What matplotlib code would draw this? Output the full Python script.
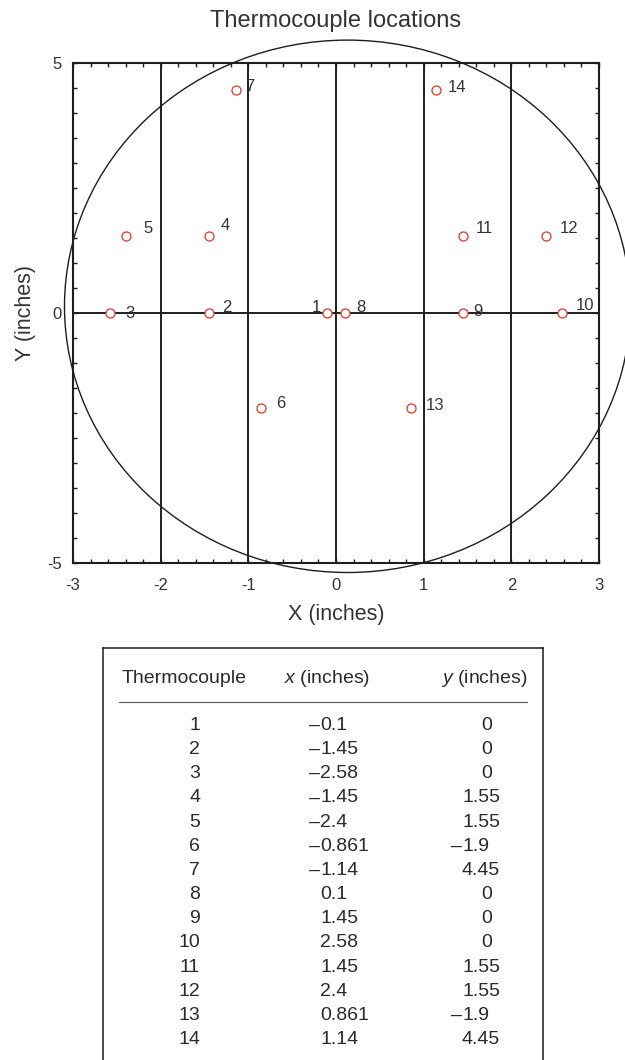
import numpy as np
import matplotlib
matplotlib.use("Agg")
import matplotlib.pyplot as plt
from matplotlib.patches import Ellipse

plt.rcParams["font.family"] = ["Liberation Sans", "DejaVu Sans"]
plt.rcParams["axes.unicode_minus"] = False
plt.rcParams["mathtext.fontset"] = "custom"
plt.rcParams["mathtext.rm"] = "Liberation Sans"
plt.rcParams["mathtext.it"] = "Liberation Sans:italic"

# thermocouple positions (inches)
tc_ids = [1, 2, 3, 4, 5, 6, 7, 8, 9, 10, 11, 12, 13, 14]
tc_x = [-0.1, -1.45, -2.58, -1.45, -2.4, -0.861, -1.14, 0.1, 1.45, 2.58, 1.45, 2.4, 0.861, 1.14]
tc_y = [0, 0, 0, 1.55, 1.55, -1.9, 4.45, 0, 0, 0, 1.55, 1.55, -1.9, 4.45]

# zone boundaries drawn across the plate
zone_x = [-2, -1, 0, 1, 2]
zone_y = [0]

# label offsets next to each marker (pixels), 1 sits on the left
label_off = [(-6, 5), (13, 5), (15, 0), (12, 10), (18, 7), (16, 5), (9, 4),
             (11, 6), (10, 2), (14, 7), (13, 7), (13, 7), (14, 3), (12, 3)]

# wafer outline (drawn freehand in the original, so not quite round)
wafer_center = (0.131, 0.134)
wafer_radii = (3.228, 5.324)

INK = "#1e1e1e"
RED = "#e3352a"

fig = plt.figure(figsize=(6.25, 10.6), dpi=100)
W, H = 625, 1060

# ---- scatter plot ----
ax = fig.add_axes([73 / W, 1 - 563 / H, 526 / W, 500 / H])
ax.set_xlim(-3, 3)
ax.set_ylim(-5, 5)

for xv in zone_x:
    ax.axvline(xv, color=INK, lw=1.4, zorder=1)
for yv in zone_y:
    ax.axhline(yv, color=INK, lw=1.4, zorder=1)

ax.add_patch(Ellipse(wafer_center, 2 * wafer_radii[0], 2 * wafer_radii[1],
                     fill=False, ec=INK, lw=1.0, clip_on=False, zorder=2))

ax.plot(tc_x, tc_y, "o", mfc="white", mec=RED, ms=6.5, mew=0.9, zorder=3)
for n, xi, yi, off in zip(tc_ids, tc_x, tc_y, label_off):
    ax.annotate(str(n), (xi, yi), xytext=off, textcoords="offset pixels",
                ha="right" if off[0] < 0 else "left", va="center",
                fontsize=12, color="#333333", zorder=4)

ax.set_xticks(np.arange(-3, 4, 1))
ax.set_xticks(np.arange(-3, 3.01, 0.2), minor=True)
ax.set_yticks([-5, 0, 5])
ax.set_yticks(np.arange(-5, 5.01, 0.5), minor=True)
ax.tick_params(which="both", direction="in", top=True, right=True,
               length=3.2, width=1.0, color=INK)
ax.tick_params(which="major", labelsize=12, labelcolor="#333333")
ax.tick_params(axis="x", pad=11)
ax.tick_params(axis="y", pad=8)
for sp in ax.spines.values():
    sp.set_linewidth(1.5)
    sp.set_color(INK)

ax.set_title("Thermocouple locations", fontsize=17, color="#333333", pad=26)
ax.set_xlabel("X (inches)", fontsize=15.5, color="#333333")
ax.set_ylabel("Y (inches)", fontsize=15.5, color="#333333")
ax.xaxis.set_label_coords(0.5, -0.082)
ax.yaxis.set_label_coords(-0.07, 0.5)

# ---- table below the plot ----
tx = fig.add_axes([103 / W, 0, 440 / W, (H - 648) / H])
tx.set_xlim(0, 440)
tx.set_ylim(H - 648, 0)
tx.set_xticks([])
tx.set_yticks([])
tx.spines["bottom"].set_visible(False)
for side in ("left", "top", "right"):
    tx.spines[side].set_linewidth(1.1)
    tx.spines[side].set_color(INK)

fs = 14
tcol = "#2a2a2a"
head_y = 35
tx.text(19, head_y, "Thermocouple", fontsize=fs, color=tcol, ha="left", va="baseline")
tx.text(224, head_y, r"$\it{x}$ (inches)", fontsize=fs, color=tcol, ha="center", va="baseline")
tx.text(424, head_y, r"$\it{y}$ (inches)", fontsize=fs, color=tcol, ha="right", va="baseline")
tx.plot([16, 424], [54, 54], color="#555555", lw=0.8)


def put_value(x, y, v, ha):
    t = tx.text(x, y, f"{abs(v):g}", fontsize=fs, color=tcol, ha=ha, va="baseline")
    if v < 0:
        tx.annotate("\u2013", xy=(0, 0.5), xycoords=t, ha="right", va="center",
                    fontsize=fs, color=tcol)


row0, dy = 82, 24.15
for i, (n, xv, yv) in enumerate(zip(tc_ids, tc_x, tc_y)):
    y = row0 + i * dy
    tx.text(97, y, str(n), fontsize=fs, color=tcol, ha="right", va="baseline")
    put_value(217, y, xv, "left")
    if float(yv).is_integer():
        put_value(384, y, yv, "center")
    else:
        put_value(359, y, yv, "left")

fig.savefig("out.png", dpi=100)
